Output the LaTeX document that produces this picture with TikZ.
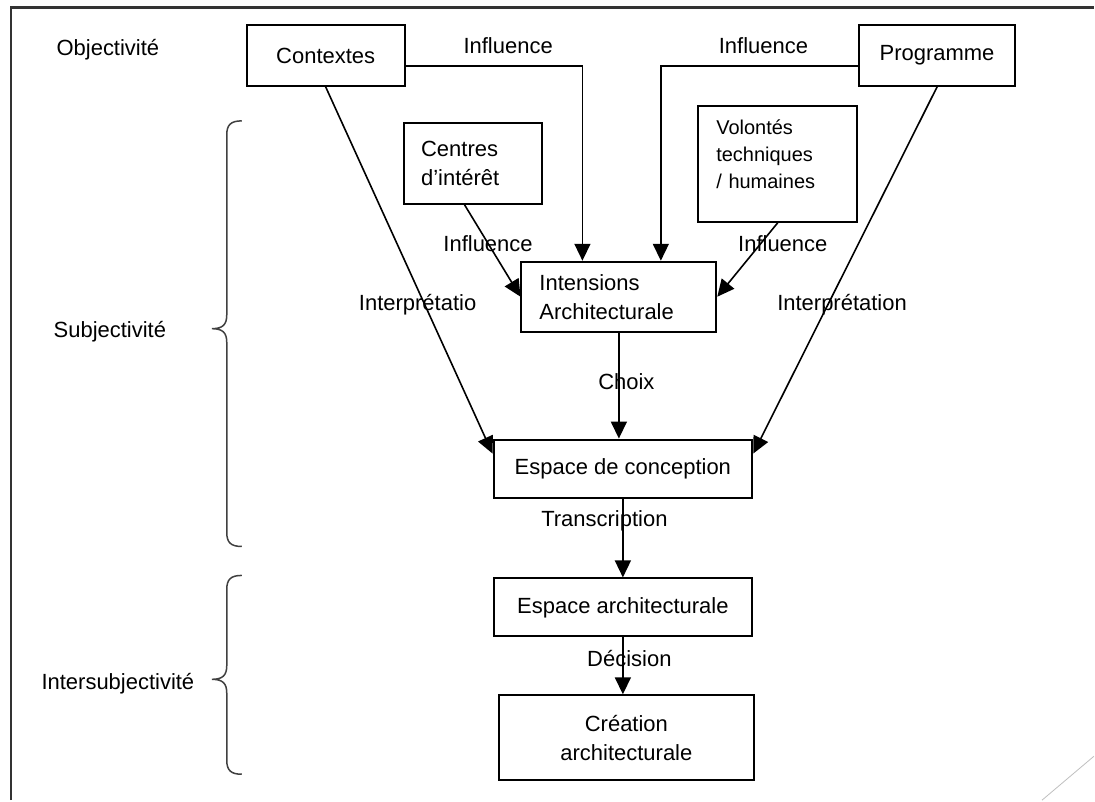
\documentclass[tikz,border=0pt]{standalone}
\usepackage{fontspec}
\setmainfont{Liberation Sans}
\usetikzlibrary{positioning, arrows.meta}

\newcommand{\sidebrace}[3]{% top, tip, bottom
    \draw[sidebrace] (242,#1) .. controls (231,#1) and (227,{#1+4}) .. (227,{#1+14})
        -- (227,{#2-14}) .. controls (227,{#2-4}) and (223,#2) .. (212,#2)
        .. controls (223,#2) and (227,{#2+4}) .. (227,{#2+14})
        -- (227,{#3-14}) .. controls (227,{#3-4}) and (231,#3) .. (242,#3);}

\begin{document}
\begin{tikzpicture}[
        x=1pt, y=-1pt,
        >={Triangle[length=17pt, width=16pt]},
        every node/.style={font=\fontsize{22}{29}\selectfont},
        box/.style={draw, line width=2pt, rectangle, inner sep=0pt, align=center},
        flow/.style={line width=1.6pt},
        sidebrace/.style={draw=black!75, line width=1.5pt},
        frameline/.style={draw=black!80, line width=2.2pt}
    ]

    \fill[white] (0,0) rectangle (1095,801);
    \draw[frameline] (11,801) -- (11,7.5) -- (1095,7.5);
    \draw[black!25, line width=0.8pt] (1043,801) -- (1095,757);

    \node (objectivite) at (108,50) {Objectivité};
    \node (subjectivite) at (110,332) {Subjectivité};
    \node (intersubjectivite) at (118,684) {Intersubjectivité};

    \sidebrace{121}{329}{547}
    \sidebrace{576}{680}{775}

    \node[box, minimum width=158pt, minimum height=61pt] (contextes) at (326,55.5) {Contextes};
    \node[box, minimum width=156pt, minimum height=61pt, right=453pt of contextes] (programme) {Programme};

    \node[box, minimum width=139pt, minimum height=81pt, text width=104pt, align=left] (centres) at (473.5,163.5) {Centres\\d'intérêt};
    \node[box, minimum width=159pt, text width=123pt, text height=29pt, text depth=87pt, align=left, font=\fontsize{20}{27}\selectfont] (volontes) at (778.5,164) {Volontés\\techniques\\/ humaines};

    \node[box, minimum width=195pt, minimum height=70pt, text width=159pt, align=left] (intensions) at (619.5,297) {Intensions\\Architecturale};
    \node[box, minimum width=259pt, minimum height=58pt, below=106pt of intensions, xshift=4pt] (conception) {Espace de conception};
    \node[box, minimum width=259pt, minimum height=58pt, below=79pt of conception] (espace) {Espace architecturale};
    \node[box, minimum width=256pt, minimum height=85pt, below=57pt of espace, xshift=3.5pt] (creation) {Création\\architecturale};

    \draw[->, flow] ([yshift=-10.5pt]contextes.east) -| node[pos=0.29, yshift=20pt] (infl_ctx) {Influence} ([xshift=-36.5pt]intensions.north);
    \draw[->, flow] ([yshift=-10.5pt]programme.west) -| node[pos=0.24, yshift=20pt] (infl_prog) {Influence} ([xshift=42pt]intensions.north);

    \draw[->, flow] ([xshift=-8.5pt]centres.south) -- node[pos=0.42] (infl_ctr) {Influence} (intensions.west);
    \draw[->, flow] (volontes.south) -- node[pos=0.28, xshift=22pt] (infl_vol) {Influence} (intensions.east);

    \draw[->, flow] (contextes.south) -- node[pos=0.593, xshift=-7pt] (interp_ctx) {Interprétatio} ([yshift=15pt]conception.west);
    \draw[->, flow] (programme.south) -- node[pos=0.593, xshift=14pt] (interp_prog) {Interprétation} ([yshift=15pt]conception.east);

    \draw[->, flow] (intensions.south) -- node[pos=0.46, xshift=7.5pt] (choix) {Choix} (intensions.south |- conception.north);
    \draw[->, flow] (conception.south) -- node[pos=0.28, xshift=-18.5pt] (transcription) {Transcription} (espace.north);
    \draw[->, flow] (espace.south) -- node[pos=0.37, xshift=6.5pt] (decision) {Décision} (espace.south |- creation.north);

\end{tikzpicture}
\end{document}
